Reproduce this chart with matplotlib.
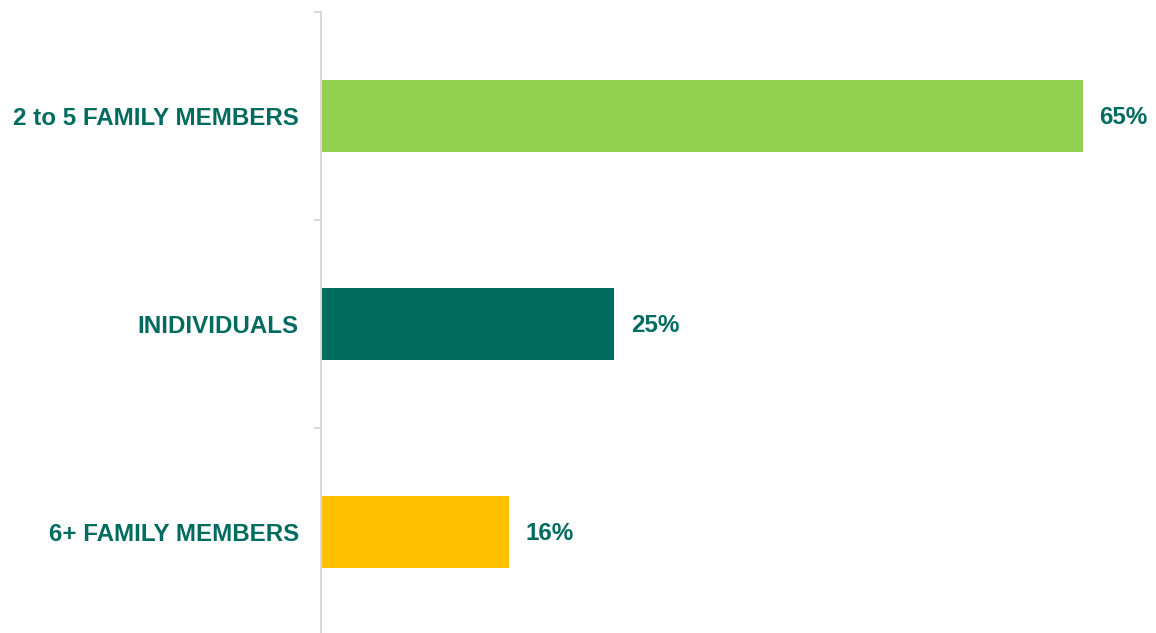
import matplotlib.pyplot as plt
import numpy as np

categories = ["2 to 5 FAMILY MEMBERS", "INIDIVIDUALS", "6+ FAMILY MEMBERS"]
shares = [65, 25, 16]
colors = ["#92D050", "#006B5F", "#FFC000"]
text_color = "#006B5F"

plt.rcParams["font.family"] = ["Liberation Sans", "DejaVu Sans"]

fig = plt.figure(figsize=(11.56, 6.33), dpi=100)
ax = fig.add_axes([321 / 1156, -3 / 633, 820.4 / 1156, 624 / 633])

y = np.arange(len(categories))
ax.barh(y, shares, height=0.35, color=colors)
ax.set_xlim(0, 70)
ax.set_ylim(len(categories) - 0.5, -0.5)

for yi, v in zip(y, shares):
    ax.annotate(f"{v}%", (v, yi), xytext=(12, -1), textcoords="offset points",
                va="center", ha="left", fontsize=17.4, fontweight="bold",
                color=text_color)

for side in ["top", "right", "bottom"]:
    ax.spines[side].set_visible(False)
ax.spines["left"].set_color("#D9D9D9")
ax.spines["left"].set_linewidth(1.5)

ax.set_xticks([])
ax.set_yticks(y)
ax.set_yticklabels(categories, fontsize=17.4, fontweight="bold", color=text_color)
ax.tick_params(axis="y", which="major", length=0, pad=16)
ax.set_yticks(np.arange(-0.5, len(categories), 1), minor=True)
ax.tick_params(axis="y", which="minor", length=5, width=1.5, color="#D9D9D9")

fig.savefig("out.png", dpi=100)
